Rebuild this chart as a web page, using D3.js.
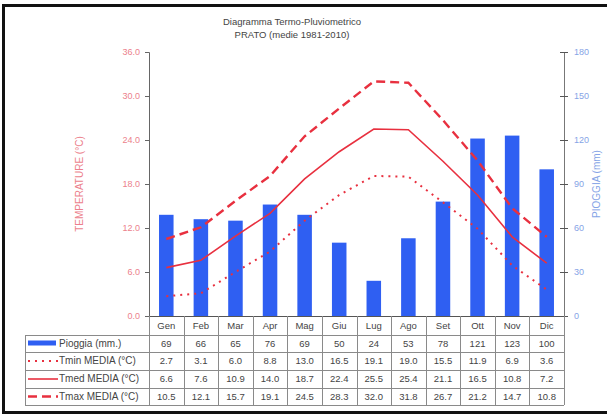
<!DOCTYPE html>
<html>
<head>
<meta charset="utf-8">
<script src="https://cdn.jsdelivr.net/npm/d3@7"></script>
<style>
  body { margin: 0; background: #fff; }
  svg { font-family: "Liberation Sans", Arial, sans-serif; }
</style>
</head>
<body>
<div id="chart"></div>
<script>
const months = ['Gen', 'Feb', 'Mar', 'Apr', 'Mag', 'Giu', 'Lug', 'Ago', 'Set', 'Ott', 'Nov', 'Dic'];
const pioggia = [69, 66, 65, 76, 69, 50, 24, 53, 78, 121, 123, 100];
const tmin = [2.7, 3.1, 6.0, 8.8, 13.0, 16.5, 19.1, 19.0, 15.5, 11.9, 6.9, 3.6];
const tmed = [6.6, 7.6, 10.9, 14.0, 18.7, 22.4, 25.5, 25.4, 21.1, 16.5, 10.8, 7.2];
const tmax = [10.5, 12.1, 15.7, 19.1, 24.5, 28.3, 32.0, 31.8, 26.7, 21.2, 14.7, 10.8];
const tempTicks = [0, 6, 12, 18, 24, 30, 36];
const rainTicks = [0, 30, 60, 90, 120, 150, 180];

const W = 607, H = 417;
const plotL = 149, plotR = 564, plotT = 52, plotB = 316;
const tableLeft = 25;
const rowY = [316, 335, 352, 370, 388, 405];

const red = '#e8303f';
const blue = '#2f5ff2';
const gridCol = '#8a8a8a';
const textCol = '#444';

const svg = d3.select('#chart').append('svg')
  .attr('width', W).attr('height', H);

// outer frame
svg.append('rect')
  .attr('x', 3.5).attr('y', 5.5).attr('width', W + 10).attr('height', 407)
  .attr('fill', 'none').attr('stroke', '#111').attr('stroke-width', 3);

// title
svg.append('text').attr('x', 292).attr('y', 25).attr('text-anchor', 'middle')
  .attr('font-size', 9.5).attr('fill', textCol).text('Diagramma Termo-Pluviometrico');
svg.append('text').attr('x', 292).attr('y', 38).attr('text-anchor', 'middle')
  .attr('font-size', 9.5).attr('fill', textCol).text('PRATO (medie 1981-2010)');

const x = d3.scaleBand().domain(months).range([plotL, plotR]);
const y = d3.scaleLinear().domain([0, 36]).range([plotB, plotT]);
const yR = d3.scaleLinear().domain([0, 180]).range([plotB, plotT]);

// bars
const bw = x.bandwidth() * 0.42;
svg.selectAll('.bar').data(months).enter().append('rect')
  .attr('class', 'bar')
  .attr('x', (d) => x(d) + (x.bandwidth() - bw) / 2)
  .attr('y', (d, i) => yR(pioggia[i]))
  .attr('width', bw)
  .attr('height', (d, i) => plotB - yR(pioggia[i]))
  .attr('fill', blue);

// temperature lines
const line = d3.line()
  .x((d, i) => x(months[i]) + x.bandwidth() / 2)
  .y((d) => y(d));

const series = [
  { data: tmin, width: 2, dash: '2,5' },
  { data: tmed, width: 1.6, dash: null },
  { data: tmax, width: 2.4, dash: '9,5' }
];
series.forEach((s) => {
  svg.append('path').datum(s.data)
    .attr('d', line)
    .attr('fill', 'none')
    .attr('stroke', red)
    .attr('stroke-width', s.width)
    .attr('stroke-dasharray', s.dash);
});

// left axis
const yAxis = d3.axisLeft(y).tickValues(tempTicks).tickFormat(d3.format('.1f')).tickSize(4).tickPadding(5);
const ga = svg.append('g').attr('transform', 'translate(' + plotL + ',0)').call(yAxis);
ga.select('.domain').attr('stroke', '#666');
ga.selectAll('line').attr('stroke', '#666');
ga.selectAll('text').attr('fill', '#ec7f8c').attr('font-size', 9).attr('font-family', 'Liberation Sans, Arial, sans-serif');

svg.append('text')
  .attr('transform', 'translate(83,' + ((plotT + plotB) / 2) + ') rotate(-90)')
  .attr('text-anchor', 'middle').attr('font-size', 10).attr('fill', '#ec7f8c')
  .text('TEMPERATURE (°C)');

// right axis
const rAxis = d3.axisRight(yR).tickValues(rainTicks).tickSize(4).tickPadding(6);
const gr = svg.append('g').attr('transform', 'translate(' + plotR + ',0)').call(rAxis);
gr.select('.domain').attr('stroke', '#777');
gr.selectAll('.tick line').attr('x1', -4).attr('stroke', '#555');
gr.selectAll('text').attr('fill', '#86a4e6').attr('font-size', 9).attr('font-family', 'Liberation Sans, Arial, sans-serif');

svg.append('text')
  .attr('transform', 'translate(600,' + ((plotT + plotB) / 2) + ') rotate(-90)')
  .attr('text-anchor', 'middle').attr('font-size', 10).attr('fill', '#86a4e6')
  .text('PIOGGIA (mm)');

// data table
const table = svg.append('g');
table.append('line').attr('x1', plotL).attr('x2', plotR).attr('y1', plotB + 0.5).attr('y2', plotB + 0.5)
  .attr('stroke', '#555');
rowY.slice(1).forEach((ry) => {
  table.append('line').attr('x1', tableLeft).attr('x2', plotR).attr('y1', ry + 0.5).attr('y2', ry + 0.5)
    .attr('stroke', gridCol);
});
table.append('line').attr('x1', tableLeft + 0.5).attr('x2', tableLeft + 0.5)
  .attr('y1', rowY[1]).attr('y2', rowY[5]).attr('stroke', gridCol);
months.concat(['end']).forEach((m, i) => {
  const vx = i < months.length ? x(m) : plotR;
  table.append('line').attr('x1', Math.round(vx) + 0.5).attr('x2', Math.round(vx) + 0.5)
    .attr('y1', plotB).attr('y2', rowY[5]).attr('stroke', gridCol);
});

const cell = (tx, ty, txt) => table.append('text')
  .attr('x', tx).attr('y', ty).attr('text-anchor', 'middle')
  .attr('font-size', 9.5).attr('fill', textCol).text(txt);

const rowMid = (r) => (rowY[r] + rowY[r + 1]) / 2 + 3.4;
months.forEach((m, i) => {
  const cx = x(m) + x.bandwidth() / 2;
  cell(cx, rowMid(0), m);
  cell(cx, rowMid(1), pioggia[i]);
  cell(cx, rowMid(2), tmin[i].toFixed(1));
  cell(cx, rowMid(3), tmed[i].toFixed(1));
  cell(cx, rowMid(4), tmax[i].toFixed(1));
});

// legend in table
const labels = ['Pioggia (mm.)', 'Tmin MEDIA (°C)', 'Tmed MEDIA (°C)', 'Tmax MEDIA (°C)'];
labels.forEach((lab, k) => {
  const cy = (rowY[k + 1] + rowY[k + 2]) / 2;
  if (k === 0) {
    table.append('rect').attr('x', 28).attr('y', cy - 3).attr('width', 28).attr('height', 5).attr('fill', blue);
  } else {
    const s = series[k - 1];
    table.append('line').attr('x1', 28).attr('x2', 58).attr('y1', cy).attr('y2', cy)
      .attr('stroke', red).attr('stroke-width', s.width).attr('stroke-dasharray', s.dash);
  }
  table.append('text').attr('x', 59).attr('y', cy + 3.4)
    .attr('font-size', 10).attr('fill', textCol).text(lab);
});
</script>
</body>
</html>
